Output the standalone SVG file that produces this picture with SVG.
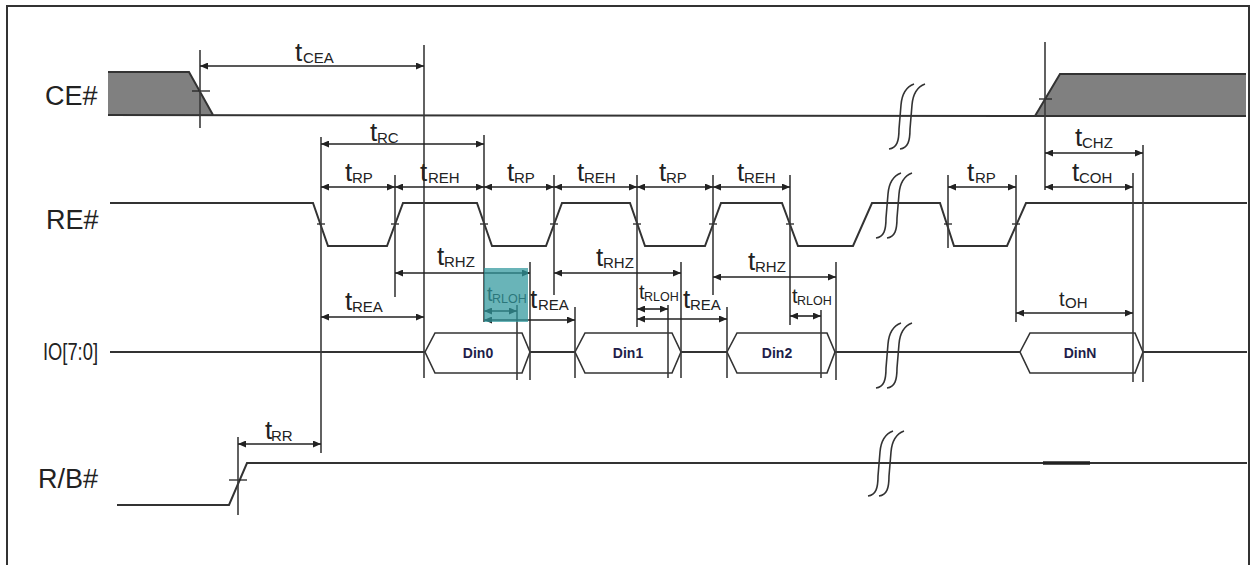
<svg xmlns="http://www.w3.org/2000/svg" width="1250" height="565" viewBox="0 0 1250 565">
<style>
.sig{fill:none;stroke:#333;stroke-width:2;stroke-linejoin:miter}
.ref{stroke:#3a3a3a;stroke-width:1.6}
.dim{stroke:#222;stroke-width:1.6;marker-start:url(#ah);marker-end:url(#ah)}
.tick{stroke:#222;stroke-width:1.3}
.brk{fill:none;stroke:#333;stroke-width:1.6}
.lbl{font-family:"Liberation Sans",Arial,sans-serif;font-size:27px;fill:#222}
.t{font-family:"Liberation Sans",Arial,sans-serif;font-size:26px;fill:#222}
.s{font-family:"Liberation Sans",Arial,sans-serif;font-size:15px;fill:#222}
.ts{font-family:"Liberation Sans",Arial,sans-serif;font-size:20px;fill:#222}
.ss{font-family:"Liberation Sans",Arial,sans-serif;font-size:12.5px;fill:#222}
.din{fill:#fff;stroke:#333;stroke-width:1.6}
.dt{font-family:"Liberation Sans",Arial,sans-serif;font-size:14px;font-weight:bold;fill:#1e1e4a;text-anchor:middle}
</style>
<defs>
<marker id="ah" viewBox="0 0 8 7" refX="8" refY="3.5" markerWidth="8" markerHeight="7" markerUnits="userSpaceOnUse" orient="auto-start-reverse">
<path d="M0,0 L8,3.5 L0,7 z" fill="#222"/>
</marker>
<g id="brk">
<path class="brk" d="M-20,32 C-12,31 -10,24 -10,12 L-8,-12 C-7,-24 -3,-30 5,-33"/>
<path class="brk" d="M-9,32 C-1,31 1,24 1,12 L3,-12 C4,-24 8,-30 16,-33"/>
</g>
</defs>

<g id="frame" stroke="#333" stroke-width="2" fill="none">
<path d="M7,565 L7,6 L1249,6 L1249,565"/>
</g>

<g id="labels">
<text class="lbl" x="45" y="105">CE#</text>
<text class="lbl" x="46" y="229">RE#</text>
<text class="lbl" x="43" y="360" style="font-size:24px" textLength="55" lengthAdjust="spacingAndGlyphs">IO[7:0]</text>
<text class="lbl" x="38" y="488">R/B#</text>
</g>

<g id="ce">
<path d="M108,72 L189,72 L213,115 L108,115 z" fill="#808080"/>
<path d="M1035,116 L1060,74 L1246,74 L1246,116 z" fill="#808080"/>
<path class="sig" d="M108,115 L1035,116"/>
<path class="sig" d="M108,72 L189,72 L213,115"/>
<path class="sig" d="M1035,116 L1060,74 L1246,74"/>
<path class="sig" d="M1035,116 L1246,116"/>
<line class="tick" x1="192" y1="91" x2="210" y2="91"/>
<line class="tick" x1="1039" y1="99" x2="1052" y2="99"/>
<use href="#brk" x="909" y="117"/>
</g>

<g id="re">
<path class="sig" d="M110,203 L313,203 L328,246 L387,246 L403,203 L477,203 L492,246 L546,246 L562,203 L630,203 L645,246 L705,246 L721,203 L782,203 L798,246 L853,246 L872,203 L940,203 L954,246 L1007,246 L1026,203 L1247,203"/>
<g class="tick">
<line x1="317" y1="224" x2="325" y2="224"/>
<line x1="391" y1="224" x2="399" y2="224"/>
<line x1="480" y1="224" x2="488" y2="224"/>
<line x1="550" y1="224" x2="558" y2="224"/>
<line x1="633" y1="224" x2="641" y2="224"/>
<line x1="709" y1="224" x2="717" y2="224"/>
<line x1="786" y1="224" x2="794" y2="224"/>
<line x1="944" y1="224" x2="952" y2="224"/>
<line x1="1012" y1="224" x2="1020" y2="224"/>
</g>
<use href="#brk" x="896" y="206"/>
</g>

<g id="io">
<path class="sig" d="M110,352 L425,352 M530,352 L575,352 M681,352 L727,352 M835,352 L1020,352 M1143,352 L1247,352"/>
<polygon class="din" points="425,352 435,333 522,333 530,352 522,373 435,373"/>
<polygon class="din" points="575,352 585,333 672,333 681,352 672,373 585,373"/>
<polygon class="din" points="727,352 737,333 827,333 835,352 827,373 737,373"/>
<polygon class="din" points="1020,352 1030,333 1135,333 1143,352 1135,373 1030,373"/>
<text class="dt" x="478" y="358">Din0</text>
<text class="dt" x="628" y="358">Din1</text>
<text class="dt" x="777" y="358">Din2</text>
<text class="dt" x="1080" y="358">DinN</text>
<use href="#brk" x="896" y="356"/>
</g>

<g id="rb">
<path class="sig" d="M117,505 L229,505 L247,463 L1247,463"/>
<line x1="1043" y1="463" x2="1090" y2="463" stroke="#222" stroke-width="3.5"/>
<line class="tick" x1="229" y1="480" x2="247" y2="480"/>
<use href="#brk" x="888" y="464"/>
</g>

<g id="connectors">
<g class="ref">
<line x1="200" y1="50" x2="200" y2="128"/>
<line x1="424" y1="45" x2="424" y2="378"/>
<line x1="321" y1="137" x2="321" y2="453"/>
<line x1="395" y1="175" x2="395" y2="297"/>
<line x1="484" y1="135" x2="484" y2="322"/>
<line x1="530" y1="262" x2="530" y2="380"/>
<line x1="517" y1="305" x2="517" y2="380"/>
<line x1="554" y1="175" x2="554" y2="295"/>
<line x1="575" y1="307" x2="575" y2="378"/>
<line x1="637" y1="175" x2="637" y2="327"/>
<line x1="681" y1="262" x2="681" y2="378"/>
<line x1="668" y1="305" x2="668" y2="378"/>
<line x1="713" y1="175" x2="713" y2="295"/>
<line x1="727" y1="307" x2="727" y2="378"/>
<line x1="790" y1="175" x2="790" y2="325"/>
<line x1="821" y1="310" x2="821" y2="378"/>
<line x1="836" y1="262" x2="836" y2="380"/>
<line x1="948" y1="175" x2="948" y2="248"/>
<line x1="1016" y1="175" x2="1016" y2="322"/>
<line x1="1045" y1="42" x2="1045" y2="190"/>
<line x1="1133" y1="173" x2="1133" y2="382"/>
<line x1="1143" y1="145" x2="1143" y2="382"/>
<line x1="238" y1="437" x2="238" y2="515"/>
</g>
<g class="dim">
<line x1="200" y1="66" x2="424" y2="66"/>
<line x1="321" y1="144" x2="484" y2="144"/>
<line x1="321" y1="187" x2="395" y2="187"/>
<line x1="395" y1="187" x2="484" y2="187"/>
<line x1="484" y1="187" x2="554" y2="187"/>
<line x1="554" y1="187" x2="637" y2="187"/>
<line x1="637" y1="187" x2="713" y2="187"/>
<line x1="713" y1="187" x2="790" y2="187"/>
<line x1="948" y1="187" x2="1016" y2="187"/>
<line x1="1045" y1="153" x2="1143" y2="153"/>
<line x1="1045" y1="187" x2="1133" y2="187"/>
<line x1="395" y1="273" x2="530" y2="273"/>
<line x1="554" y1="273" x2="681" y2="273"/>
<line x1="713" y1="277" x2="836" y2="277"/>
<line x1="321" y1="317" x2="424" y2="317"/>
<line x1="484" y1="311" x2="517" y2="311"/>
<line x1="484" y1="320" x2="575" y2="320"/>
<line x1="637" y1="309" x2="668" y2="309"/>
<line x1="637" y1="319" x2="727" y2="319"/>
<line x1="790" y1="316" x2="821" y2="316"/>
<line x1="1016" y1="313" x2="1133" y2="313"/>
<line x1="238" y1="444" x2="321" y2="444"/>
</g>
</g>

<g id="timing-labels">
<text class="t" x="295" y="61">t</text><text class="s" x="303" y="63">CEA</text>
<text class="t" x="370" y="141">t</text><text class="s" x="377" y="143">RC</text>
<text class="t" x="345" y="181">t</text><text class="s" x="352" y="183">RP</text>
<text class="t" x="420" y="181">t</text><text class="s" x="428" y="183">REH</text>
<text class="t" x="507" y="181">t</text><text class="s" x="514" y="183">RP</text>
<text class="t" x="577" y="181">t</text><text class="s" x="584" y="183">REH</text>
<text class="t" x="659" y="181">t</text><text class="s" x="666" y="183">RP</text>
<text class="t" x="737" y="181">t</text><text class="s" x="744" y="183">REH</text>
<text class="t" x="967" y="181">t</text><text class="s" x="975" y="183">RP</text>
<text class="t" x="1075" y="146">t</text><text class="s" x="1082" y="148">CHZ</text>
<text class="t" x="1072" y="181">t</text><text class="s" x="1079" y="183">COH</text>
<text class="t" x="437" y="265">t</text><text class="s" x="444" y="267">RHZ</text>
<text class="t" x="596" y="266">t</text><text class="s" x="603" y="268">RHZ</text>
<text class="t" x="748" y="270">t</text><text class="s" x="755" y="272">RHZ</text>
<text class="t" x="345" y="310">t</text><text class="s" x="352" y="312">REA</text>
<text class="t" x="530" y="308">t</text><text class="s" x="538" y="310">REA</text>
<text class="t" x="683" y="308">t</text><text class="s" x="690" y="310">REA</text>
<text class="ts" x="487" y="301">t</text><text class="ss" x="492" y="303">RLOH</text>
<text class="ts" x="639" y="299">t</text><text class="ss" x="644" y="301">RLOH</text>
<text class="ts" x="792" y="303">t</text><text class="ss" x="797" y="305">RLOH</text>
<text class="ts" x="1059" y="306">t</text><text class="s" x="1065" y="308">OH</text>
<text class="t" x="265" y="439">t</text><text class="s" x="271" y="441">RR</text>
</g>

<rect id="highlight" x="484" y="268" width="44" height="54" fill="#2f979c" fill-opacity="0.72"/>
</svg>
